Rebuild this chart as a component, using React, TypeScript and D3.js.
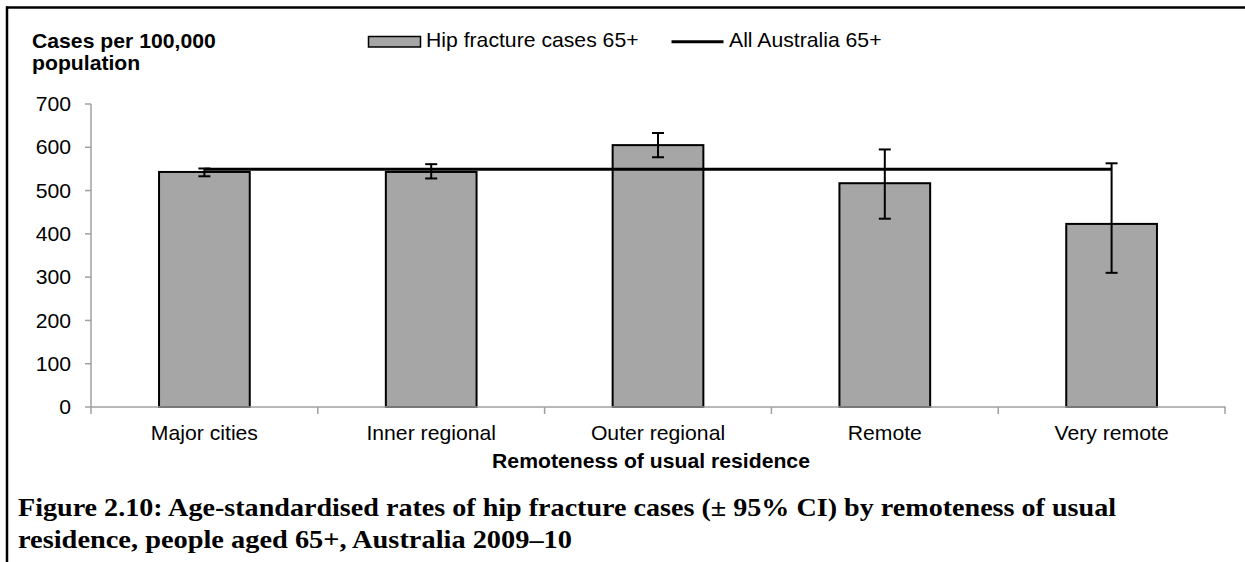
import React from "react";
import * as d3 from "d3";

const categories = ["Major cities", "Inner regional", "Outer regional", "Remote", "Very remote"];
const rates = [543, 543, 605, 517, 423];
const ciLower = [533, 528, 577, 435, 310];
const ciUpper = [551, 561, 633, 595, 563];
const allAustralia = 549;
const yTicks = [0, 100, 200, 300, 400, 500, 600, 700];

const W = 1245;
const H = 562;
const SANS = "'Liberation Sans', Arial, sans-serif";
const SERIF = "'Liberation Serif', 'Times New Roman', serif";
const SX = 1.06;

function T(props: {
  x: number;
  y: number;
  anchor?: string;
  size?: number;
  bold?: boolean;
  children: React.ReactNode;
  dy?: string;
}) {
  const { x, y, anchor = "start", size = 20, bold = false, children, dy } = props;
  return (
    <text
      transform={`translate(${x},${y}) scale(${SX},1)`}
      textAnchor={anchor}
      fontFamily={SANS}
      fontSize={size}
      fontWeight={bold ? "bold" : "normal"}
      fill="#000"
      dy={dy}
    >
      {children}
    </text>
  );
}

export default function App() {
  const x = d3.scaleBand<string>().domain(categories).range([91, 1225]).paddingInner(0.6).paddingOuter(0.3);
  const band = d3.scaleBand<string>().domain(categories).range([91, 1225]);
  const y = d3.scaleLinear().domain([0, 700]).range([407, 104]);
  const axisGrey = "#a0a0a0";
  const barFill = "#a6a6a6";
  const bw = x.bandwidth();
  const centers = categories.map((c) => (x(c) as number) + bw / 2);
  const capW = 12;
  const tickXs = categories.map((c) => band(c) as number).concat([band.range()[1]]);

  return (
    <svg
      width={W}
      height={H}
      style={{ position: "absolute", left: 0, top: 0, background: "#fff" }}
    >
      <rect x={0} y={0} width={W} height={H} fill="#fff" />
      {/* frame */}
      <line x1={6} x2={W} y1={7.5} y2={7.5} stroke="#000" strokeWidth={2.5} />
      <line x1={7} x2={7} y1={6.5} y2={H} stroke="#000" strokeWidth={2.5} />

      {/* y axis title */}
      <T x={32} y={48} bold>Cases per 100,000</T>
      <T x={32} y={70} bold>population</T>

      {/* legend */}
      <rect x={368.5} y={36.5} width={52} height={10.5} fill={barFill} stroke="#000" strokeWidth={1.5} />
      <T x={426} y={47}>Hip fracture cases 65+</T>
      <line x1={671.5} x2={723.5} y1={41.7} y2={41.7} stroke="#000" strokeWidth={3} />
      <T x={729} y={47}>All Australia 65+</T>

      {/* y axis */}
      <line x1={91} x2={91} y1={y(700)} y2={y(0)} stroke={axisGrey} strokeWidth={1.5} />
      {yTicks.map((t) => (
        <g key={t}>
          <line x1={85} x2={91} y1={y(t)} y2={y(t)} stroke={axisGrey} strokeWidth={1.5} />
          <T x={71} y={y(t)} anchor="end" dy="0.36em">{t}</T>
        </g>
      ))}

      {/* bars */}
      {categories.map((c, i) => (
        <rect
          key={c}
          x={x(c) as number}
          y={y(rates[i])}
          width={bw}
          height={y(0) - y(rates[i])}
          fill={barFill}
          stroke="#000"
          strokeWidth={2}
        />
      ))}

      {/* x axis */}
      <line x1={91} x2={1225.5} y1={y(0)} y2={y(0)} stroke={axisGrey} strokeWidth={1.5} />
      {tickXs.map((tx, i) => (
        <line key={i} x1={tx} x2={tx} y1={y(0)} y2={y(0) + 7} stroke={axisGrey} strokeWidth={1.5} />
      ))}

      {/* reference line */}
      <line
        x1={centers[0]}
        x2={centers[centers.length - 1]}
        y1={y(allAustralia)}
        y2={y(allAustralia)}
        stroke="#000"
        strokeWidth={3}
      />

      {/* error bars */}
      {categories.map((c, i) => (
        <g key={c} stroke="#000" strokeWidth={2}>
          <line x1={centers[i]} x2={centers[i]} y1={y(ciUpper[i])} y2={y(ciLower[i])} />
          <line x1={centers[i] - capW / 2} x2={centers[i] + capW / 2} y1={y(ciUpper[i])} y2={y(ciUpper[i])} />
          <line x1={centers[i] - capW / 2} x2={centers[i] + capW / 2} y1={y(ciLower[i])} y2={y(ciLower[i])} />
        </g>
      ))}

      {/* category labels */}
      {categories.map((c, i) => (
        <T key={c} x={centers[i]} y={440} anchor="middle">{c}</T>
      ))}

      {/* x axis title */}
      <T x={651} y={468} anchor="middle" bold>Remoteness of usual residence</T>

      {/* caption */}
      <text
        x={18}
        y={516}
        fontFamily={SERIF}
        fontWeight="bold"
        fontSize={25}
        textLength={1098}
        lengthAdjust="spacingAndGlyphs"
      >
        Figure 2.10: Age-standardised rates of hip fracture cases (± 95% CI) by remoteness of usual
      </text>
      <text
        x={18}
        y={548}
        fontFamily={SERIF}
        fontWeight="bold"
        fontSize={25}
        textLength={554}
        lengthAdjust="spacingAndGlyphs"
      >
        residence, people aged 65+, Australia 2009–10
      </text>
    </svg>
  );
}
